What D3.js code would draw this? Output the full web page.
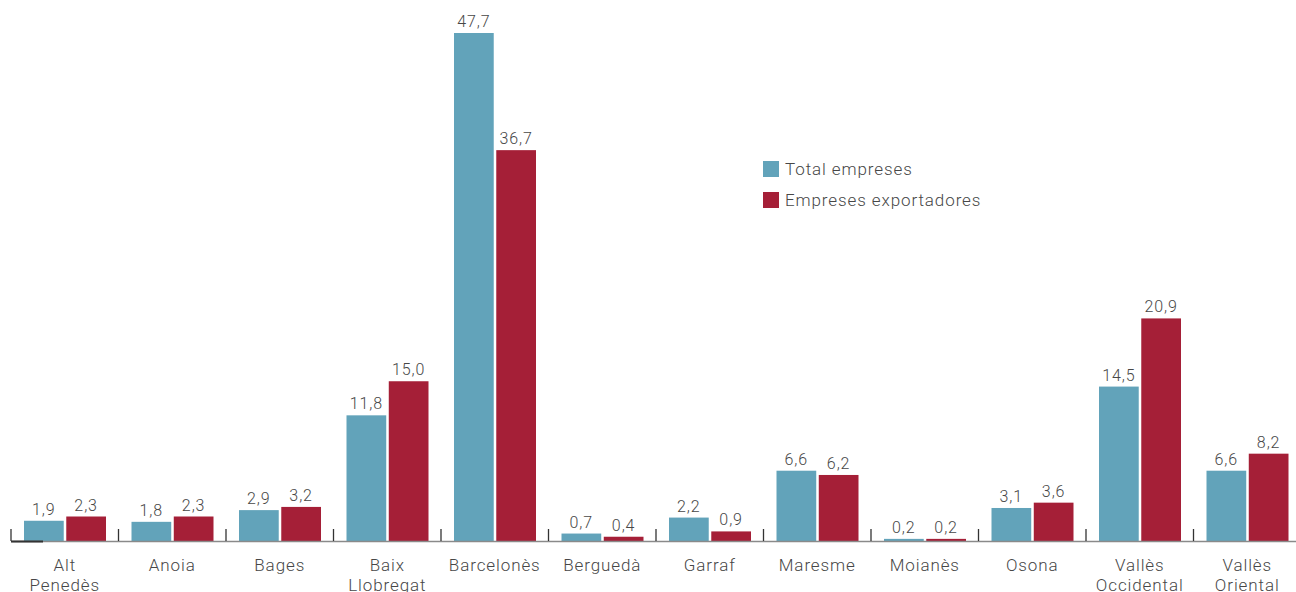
<!DOCTYPE html>
<meta charset="utf-8">
<title>Empreses per comarca</title>
<style>
body { margin: 0; background: #fff; }
text { font-family: Roboto, "DejaVu Sans", sans-serif; fill: #474747; letter-spacing: 0.9px; }
.axis path { stroke: #8a8a8a; }
.axis line { stroke: #333; }
</style>
<body>
<script src="https://d3js.org/d3.v7.min.js"></script>
<script>

var comarques = [["Alt", "Penedès"], ["Anoia"], ["Bages"], ["Baix", "Llobregat"], ["Barcelonès"],
  ["Berguedà"], ["Garraf"], ["Maresme"], ["Moianès"], ["Osona"], ["Vallès", "Occidental"], ["Vallès", "Oriental"]];
var totalEmpreses = [1.9, 1.8, 2.9, 11.8, 47.7, 0.7, 2.2, 6.6, 0.2, 3.1, 14.5, 6.6];
var empresesExportadores = [2.3, 2.3, 3.2, 15.0, 36.7, 0.4, 0.9, 6.2, 0.2, 3.6, 20.9, 8.2];
var series = ["Total empreses", "Empreses exportadores"];

var W = 1296, H = 592;
var baseY = 541;
var colors = ["#62a3ba", "#a51f37"];

var names = comarques.map(function(d) { return d.join(" "); });
var rows = names.map(function(n, i) { return {name: n, lines: comarques[i], vals: [totalEmpreses[i], empresesExportadores[i]]}; });

var x = d3.scaleBand().domain(names).range([11, 1301]).paddingInner(0).paddingOuter(0);
var y = d3.scaleLinear().domain([0, 47.7]).range([baseY, 33]);
var x1 = d3.scaleBand().domain([0, 1]).range([13, x.bandwidth() - 12.5]).paddingInner(0.06);

var fmt = function(v) { return d3.format(".1f")(v).replace(".", ","); };

var svg = d3.select("body").append("svg").attr("width", W).attr("height", H);

var g = svg.selectAll(".cat").data(rows).enter().append("g")
    .attr("class", "cat")
    .attr("transform", function(d) { return "translate(" + x(d.name) + ",0)"; });

g.selectAll("rect").data(function(d) { return d.vals; }).enter().append("rect")
    .attr("x", function(d, i) { return x1(i); })
    .attr("width", x1.bandwidth())
    .attr("y", function(d) { return y(d); })
    .attr("height", function(d) { return baseY - y(d); })
    .attr("fill", function(d, i) { return colors[i]; });

g.selectAll(".val").data(function(d) { return d.vals; }).enter().append("text")
    .attr("class", "val")
    .attr("x", function(d, i) { return x1(i) + x1.bandwidth() / 2; })
    .attr("y", function(d) { return y(d) - 6; })
    .attr("text-anchor", "middle")
    .style("font-size", "16px")
    .style("font-weight", 300)
    .text(fmt);

// axis
var axis = svg.append("g").attr("class", "axis")
    .attr("transform", "translate(0," + baseY + ")")
    .call(d3.axisTop(x).tickSize(0).tickFormat(""));
axis.select(".domain").attr("stroke-width", 1.5);
axis.selectAll(".tick").remove();

var bounds = names.map(function(n) { return x(n); });
axis.selectAll(".sep").data(bounds).enter().append("line")
    .attr("class", "sep")
    .attr("x1", function(d) { return d; }).attr("x2", function(d) { return d; })
    .attr("y1", -12).attr("y2", 0)
    .attr("stroke-width", 1.3);

axis.append("line").attr("x1", 11).attr("x2", 43).attr("y1", 0.5).attr("y2", 0.5)
    .attr("stroke", "#222").attr("stroke-width", 2);

// category labels
g.append("text")
    .attr("x", x.bandwidth() / 2)
    .attr("y", 571)
    .attr("text-anchor", "middle")
    .style("font-size", "17px")
    .style("font-weight", 300)
    .selectAll("tspan").data(function(d) { return d.lines; }).enter().append("tspan")
    .attr("x", x.bandwidth() / 2)
    .attr("dy", function(d, i) { return i === 0 ? 0 : 20; })
    .text(function(d) { return d; });

// legend
var legend = svg.selectAll(".legend").data(series).enter().append("g")
    .attr("class", "legend")
    .attr("transform", function(d, i) { return "translate(763," + (161 + i * 31) + ")"; });

legend.append("rect").attr("width", 16).attr("height", 16)
    .attr("fill", function(d, i) { return colors[i]; });

legend.append("text").attr("x", 22).attr("y", 8).attr("dy", ".35em")
    .style("font-size", "17px")
    .style("font-weight", 300)
    .text(function(d) { return d; });

</script>
